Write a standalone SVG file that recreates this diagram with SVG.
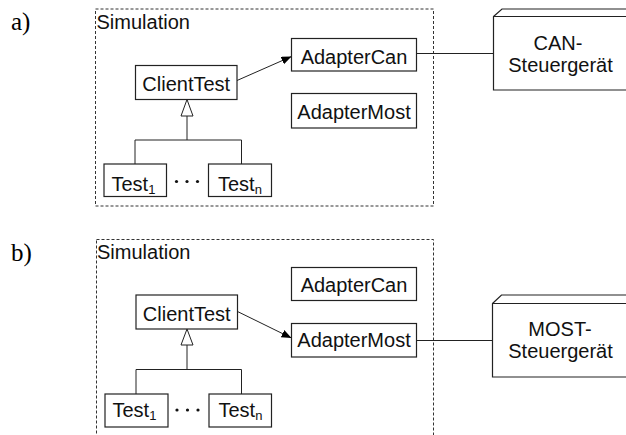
<svg xmlns="http://www.w3.org/2000/svg" width="626" height="435" viewBox="0 0 626 435">
<defs>
<marker id="arr" markerUnits="userSpaceOnUse" markerWidth="12" markerHeight="10" refX="10" refY="4" orient="auto">
<path d="M0,0 L10,4 L0,8 Z" fill="#000"/>
</marker>
<style>
.t{font-family:'Liberation Sans',Arial,sans-serif;font-size:20px;fill:#111}
.sub{font-size:13px}
.lbl{font-family:'Liberation Serif','Times New Roman','DejaVu Serif',serif;font-size:25px;fill:#000}
.box{fill:#fff;stroke:#222;stroke-width:1.2}
.frame{fill:none;stroke:#333;stroke-width:1;stroke-dasharray:3,2}
.ln{fill:none;stroke:#222;stroke-width:1}
.gen{fill:#fff;stroke:#222;stroke-width:1}
.dot{fill:#111}
</style>
</defs>
<rect width="626" height="435" fill="#fff"/>

<!-- Part a -->
<text class="lbl" x="11" y="30" font-family="'Liberation Serif', serif">a)</text>
<g id="simA">
<rect class="frame" x="95.5" y="9" width="338" height="197"/>
<text class="t" x="96.5" y="29">Simulation</text>
</g>
<g id="connA">
<line class="ln" x1="237" y1="80.5" x2="291.5" y2="56.5" marker-end="url(#arr)"/>
<polyline class="ln" points="187,116 187,140"/>
<polyline class="ln" points="135,164 135,140 241.5,140 241.5,164"/>
<polygon class="gen" points="187,99.5 181,116 193,116"/>
<line class="ln" x1="416.5" y1="53.5" x2="493.5" y2="53.5"/>
</g>
<g id="clientTestA">
<rect class="box" x="135.5" y="65.5" width="101.5" height="34"/>
<text class="t" x="186.25" y="90.5" text-anchor="middle">ClientTest</text>
</g>
<g id="adapterCanA">
<rect class="box" x="291.5" y="38.5" width="125" height="32.5"/>
<text class="t" x="354" y="63.5" text-anchor="middle">AdapterCan</text>
</g>
<g id="adapterMostA">
<rect class="box" x="291.5" y="93.5" width="125" height="34.5"/>
<text class="t" x="354" y="118.5" text-anchor="middle">AdapterMost</text>
</g>
<g id="test1A">
<rect class="box" x="104" y="164" width="62.5" height="32.5"/>
<text class="t" x="111.5" y="190.5">Test<tspan class="sub" dy="3">1</tspan></text>
</g>
<g id="dotsA">
<circle class="dot" cx="176.5" cy="181.5" r="1.6"/>
<circle class="dot" cx="187" cy="181.5" r="1.6"/>
<circle class="dot" cx="197.5" cy="181.5" r="1.6"/>
</g>
<g id="testnA">
<rect class="box" x="208.5" y="164" width="63" height="32.5"/>
<text class="t" x="218" y="190.5">Test<tspan class="sub" dy="3">n</tspan></text>
</g>
<g id="canEcu">
<polygon class="box" points="493.5,16.5 502,9 640,9 640,90 493.5,90"/>
<line class="ln" x1="493.5" y1="16.5" x2="640" y2="16.5"/>
<text class="t" x="558" y="50" text-anchor="middle">CAN-</text>
<text class="t" x="560.5" y="71.5" text-anchor="middle">Steuergerät</text>
</g>

<!-- Part b -->
<text class="lbl" x="11" y="261" font-family="'Liberation Serif', serif">b)</text>
<g id="simB">
<rect class="frame" x="96.5" y="239.5" width="337" height="220"/>
<text class="t" x="97" y="258.5">Simulation</text>
</g>
<g id="connB">
<line class="ln" x1="237.5" y1="311.5" x2="291.5" y2="338" marker-end="url(#arr)"/>
<polyline class="ln" points="187,345 187,369.5"/>
<polyline class="ln" points="136,394 136,369.5 241.5,369.5 241.5,394"/>
<polygon class="gen" points="187,329 181,345 193,345"/>
<line class="ln" x1="416.5" y1="340.5" x2="492.5" y2="340.5"/>
</g>
<g id="clientTestB">
<rect class="box" x="136" y="295" width="101.5" height="34"/>
<text class="t" x="186.75" y="320.5" text-anchor="middle">ClientTest</text>
</g>
<g id="adapterCanB">
<rect class="box" x="291.5" y="267.5" width="125" height="33"/>
<text class="t" x="354" y="291.5" text-anchor="middle">AdapterCan</text>
</g>
<g id="adapterMostB">
<rect class="box" x="291.5" y="323.5" width="125" height="33.5"/>
<text class="t" x="354" y="347" text-anchor="middle">AdapterMost</text>
</g>
<g id="test1B">
<rect class="box" x="105" y="394" width="63" height="33"/>
<text class="t" x="112.5" y="416.5">Test<tspan class="sub" dy="3">1</tspan></text>
</g>
<g id="dotsB">
<circle class="dot" cx="177" cy="410" r="1.6"/>
<circle class="dot" cx="187.5" cy="410" r="1.6"/>
<circle class="dot" cx="198" cy="410" r="1.6"/>
</g>
<g id="testnB">
<rect class="box" x="209" y="394" width="62.5" height="33"/>
<text class="t" x="218.5" y="416.5">Test<tspan class="sub" dy="3">n</tspan></text>
</g>
<g id="mostEcu">
<polygon class="box" points="492.5,303.5 501.5,295 640,295 640,377 492.5,377"/>
<line class="ln" x1="492.5" y1="303.5" x2="640" y2="303.5"/>
<text class="t" x="560" y="336" text-anchor="middle">MOST-</text>
<text class="t" x="560.5" y="357.5" text-anchor="middle">Steuergerät</text>
</g>
</svg>
